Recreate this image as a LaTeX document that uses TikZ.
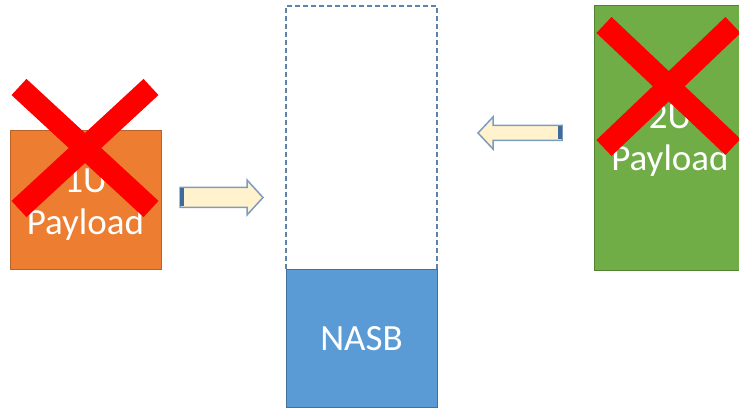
\documentclass[tikz,border=0pt]{standalone}
\usepackage{fontspec}
\setmainfont{Carlito}
\usepackage{tikz}

\definecolor{oneuFill}{HTML}{ED7D31}
\definecolor{oneuLine}{HTML}{B9652A}
\definecolor{twouFill}{HTML}{70AD47}
\definecolor{twouLine}{HTML}{548235}
\definecolor{nasbFill}{HTML}{5B9BD5}
\definecolor{nasbLine}{HTML}{41719C}
\definecolor{slotLine}{HTML}{5E83AA}
\definecolor{arrFill}{HTML}{FFF2CC}
\definecolor{arrLine}{HTML}{7E9CC0}
\definecolor{arrTail}{HTML}{3F6A9C}

\tikzset{
  payload/.style={draw, line width=1pt, minimum width=151, minimum height=139,
                  inner sep=0pt},
  boxtext/.style={text=white, align=center, inner sep=0pt,
                  font=\fontsize{37}{42}\selectfont},
  slotbox/.style={draw=slotLine, line width=1.2pt, dash pattern=on 5pt off 3pt,
                  minimum width=151, minimum height=264, inner sep=0pt},
  cross/.style={draw=red, line width=22pt},
  blockarrow/.style={fill=arrFill, draw=arrLine, line width=1.5pt, line join=miter},
}

\begin{document}
\begin{tikzpicture}[x=1pt,y=-1pt]
        \clip (0,0) rectangle (739,411);                                        %
        \fill[white] (0,0) rectangle (739,411);                                 %

        \node[slotbox] (slot) at (361.5,138) {};                                %empty slot
        \node[payload, fill=nasbFill, draw=nasbLine, minimum height=138]
              (nasb) at (361.5,339) {};                                         %NASB
        \node[boxtext] (nasbtext) at (nasb.center) {NASB};                      %

        \node[payload, fill=oneuFill, draw=oneuLine] (oneu) at (85.5,200.5) {}; %1U
        \node[boxtext] (oneutext) at ([yshift=-4pt]oneu.center) {1U\\Payload};  %
        \node[payload, fill=twouFill, draw=twouLine, minimum height=265]
              (twou) at (670,138) {};                                           %2U
        \node[boxtext] (twoutext) at ([yshift=-2pt]twou.center) {2U\\Payload};  %

        \draw[cross] (19,87) -- (151,209);                                      %X on 1U
        \draw[cross] (151,87) -- (19,209);                                      %
        \draw[cross] (604,25) -- (733,147);                                     %X on 2U
        \draw[cross] (733,25) -- (604,148);                                     %

        \draw[blockarrow] (180,187.5) -- (247,187.5) -- (247,180) -- (263,197.5)
              -- (247,215) -- (247,207.5) -- (180,207.5) -- cycle;              %1U -> slot
        \fill[arrTail] (180,188.5) rectangle (184,206.5);                       %
        \draw[blockarrow] (562,125.5) -- (493,125.5) -- (493,117) -- (478,133)
              -- (493,149) -- (493,140.5) -- (562,140.5) -- cycle;              %2U -> slot
        \fill[arrTail] (558,126.5) rectangle (562,139.5);                       %
\end{tikzpicture}
\end{document}
